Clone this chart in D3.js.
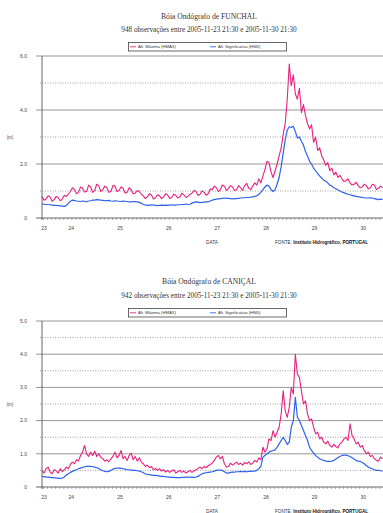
<!DOCTYPE html>
<html><head><meta charset="utf-8">
<script src="https://cdn.jsdelivr.net/npm/d3@7"></script>
<style>html,body{margin:0;padding:0;background:#fff;overflow:hidden}</style>
</head><body>
<svg id="c" width="383" height="513"></svg>
<script>
// ---- data (hourly readings from 2005-11-23 21:30) ----
const stepHours = 1;
const dayLabels = ["23","24","25","26","27","28","29","30"];
const seriesNames = ["Alt. Máxima (HMAX)", "Alt. Significativa (HM0)"];

const funchalTitle = "Bóia Ondógrafo de FUNCHAL";
const funchalSub = "948 observações entre 2005-11-23 21:30 e 2005-11-30 21:30";
const funchalYTicks = [0, 2, 4, 6];
const funchalHmax = [
 0.80,0.66,0.70,0.82,0.78,0.62,0.68,0.80,0.75,0.64,0.70,0.84,
 0.80,0.88,0.98,1.12,1.05,0.90,0.95,1.15,1.10,0.96,0.98,1.22,
 1.15,0.95,1.02,1.25,1.20,0.98,1.05,1.18,1.12,0.95,0.98,1.20,
 1.18,0.98,1.02,1.15,1.10,0.92,0.95,1.12,1.05,0.90,0.92,1.02,
 0.98,0.88,0.82,0.72,0.78,0.90,0.85,0.70,0.75,0.86,0.82,0.72,
 0.78,0.90,0.85,0.72,0.76,0.88,0.84,0.74,0.78,0.92,0.86,0.76,
 0.80,0.88,0.92,1.02,0.98,0.84,0.88,1.00,0.95,0.85,0.90,1.08,
 1.05,1.18,1.12,0.98,1.05,1.22,1.18,1.02,1.10,1.20,1.15,1.02,
 1.05,1.20,1.12,1.02,1.20,1.28,1.10,1.05,1.18,1.30,1.22,1.45,
 1.30,1.55,1.80,2.10,2.05,1.70,1.50,1.75,2.00,2.30,2.60,3.10,
 3.50,4.40,5.70,4.90,5.30,4.60,4.40,4.80,3.90,4.20,3.80,3.50,
 3.30,3.45,2.80,3.00,2.50,2.60,2.30,2.15,1.95,2.05,1.75,1.85,
 1.60,1.70,1.50,1.58,1.45,1.35,1.38,1.45,1.30,1.22,1.25,1.32,
 1.20,1.12,1.15,1.25,1.20,1.08,1.12,1.25,1.22,1.05,1.10,1.18,1.12];
const funchalHm0 = [
 0.52,0.51,0.50,0.50,0.49,0.48,0.47,0.47,0.46,0.45,0.44,0.43,
 0.46,0.55,0.62,0.66,0.65,0.63,0.62,0.61,0.63,0.62,0.60,0.63,
 0.64,0.66,0.66,0.68,0.67,0.66,0.65,0.64,0.64,0.65,0.63,0.62,
 0.64,0.63,0.62,0.61,0.63,0.62,0.61,0.60,0.60,0.61,0.61,0.60,
 0.58,0.55,0.50,0.48,0.48,0.47,0.49,0.48,0.47,0.46,0.47,0.48,
 0.47,0.48,0.47,0.48,0.49,0.48,0.48,0.49,0.49,0.50,0.50,0.52,
 0.50,0.51,0.55,0.58,0.60,0.59,0.57,0.58,0.59,0.60,0.60,0.63,
 0.66,0.68,0.70,0.71,0.72,0.73,0.74,0.73,0.73,0.72,0.71,0.72,
 0.72,0.73,0.74,0.75,0.75,0.76,0.76,0.77,0.78,0.80,0.82,0.88,
 0.95,1.05,1.15,1.22,1.18,1.05,0.98,1.05,1.25,1.50,1.90,2.40,
 2.90,3.25,3.38,3.35,3.40,3.20,2.96,3.00,2.84,2.70,2.46,2.30,
 2.10,2.00,1.85,1.75,1.65,1.55,1.48,1.40,1.36,1.30,1.22,1.18,
 1.12,1.08,1.04,1.00,0.96,0.94,0.90,0.88,0.86,0.84,0.82,0.80,
 0.79,0.77,0.76,0.75,0.74,0.74,0.75,0.74,0.72,0.70,0.68,0.70,0.69];

const canicalTitle = "Bóia Ondógrafo de CANIÇAL";
const canicalSub = "942 observações entre 2005-11-23 21:30 e 2005-11-30 21:30";
const canicalYTicks = [0, 1, 2, 3, 4, 5];
const canicalHmax = [
 0.50,0.42,0.55,0.60,0.45,0.40,0.52,0.48,0.42,0.55,0.46,0.52,
 0.60,0.55,0.68,0.75,0.70,0.82,0.78,0.95,1.05,1.25,1.00,0.92,
 1.05,0.95,1.08,0.92,1.00,0.90,0.85,0.78,0.82,0.76,0.85,0.92,
 1.05,0.88,0.95,1.10,0.85,0.92,0.80,0.95,1.02,0.82,0.92,0.78,
 0.88,0.75,0.70,0.62,0.66,0.58,0.62,0.52,0.56,0.50,0.55,0.48,
 0.52,0.45,0.50,0.44,0.48,0.52,0.42,0.46,0.50,0.44,0.48,0.42,
 0.46,0.50,0.44,0.48,0.52,0.56,0.60,0.55,0.62,0.58,0.64,0.68,
 0.72,0.80,0.90,0.95,0.85,0.92,0.70,0.60,0.62,0.72,0.66,0.70,
 0.75,0.68,0.72,0.66,0.74,0.70,0.76,0.68,
 0.72,0.80,0.75,0.88,0.82,1.20,1.05,1.15,1.45,1.40,1.70,1.50,
 1.65,1.80,2.20,2.90,2.30,2.10,2.40,3.00,2.80,4.00,3.40,3.30,
 2.90,2.50,2.60,2.20,2.00,2.05,1.80,1.60,1.65,1.45,1.50,1.35,
 1.30,1.38,1.25,1.20,1.28,1.22,1.18,1.30,1.35,1.45,1.50,1.40,
 1.90,1.55,1.45,1.30,1.35,1.20,1.25,1.10,1.00,1.05,0.92,0.95,
 0.85,0.80,0.78,0.90,0.85];
const canicalHm0 = [
 0.32,0.31,0.30,0.30,0.29,0.28,0.28,0.27,0.27,0.26,0.27,0.30,
 0.36,0.40,0.44,0.47,0.50,0.52,0.55,0.57,0.59,0.61,0.62,0.62,
 0.62,0.61,0.60,0.58,0.56,0.52,0.49,0.47,0.46,0.47,0.50,0.54,
 0.56,0.57,0.57,0.56,0.55,0.54,0.52,0.52,0.51,0.50,0.50,0.49,
 0.48,0.46,0.43,0.40,0.38,0.37,0.36,0.35,0.35,0.34,0.33,0.32,
 0.32,0.31,0.30,0.30,0.29,0.29,0.28,0.28,0.28,0.29,0.29,0.30,
 0.30,0.30,0.29,0.29,0.30,0.32,0.36,0.40,0.42,0.43,0.44,0.45,
 0.46,0.48,0.50,0.51,0.51,0.50,0.46,0.42,0.42,0.44,0.45,0.45,
 0.46,0.46,0.47,0.46,0.47,0.46,0.47,0.47,0.48,0.48,0.50,0.55,
 0.62,0.90,0.95,1.00,1.05,1.08,1.10,1.12,1.20,1.30,1.40,1.50,
 1.40,1.28,1.35,1.80,2.00,2.70,2.10,2.00,1.85,1.70,1.55,1.40,
 1.20,1.10,1.02,0.95,0.90,0.85,0.82,0.80,0.78,0.77,0.77,0.78,
 0.80,0.84,0.88,0.92,0.95,0.96,0.96,0.94,0.92,0.88,0.84,0.80,
 0.78,0.77,0.74,0.70,0.65,0.60,0.57,0.55,0.52,0.50,0.50,0.49,0.48];

const colors = ["#e8207f", "#2f62ee"];
const start = new Date(2005, 10, 23, 21, 30);
const end = new Date(2005, 10, 30, 21, 30);

const svg = d3.select("#c");
const sans = "Liberation Sans, Arial, sans-serif";
const serif = "Liberation Serif, Times New Roman, serif";

function drawChart(cfg) {
  const g = svg.append("g");
  const x = d3.scaleTime().domain([start, end]).range([42, 382.5]);
  const yMax = d3.max(cfg.yTicks);
  const y = d3.scaleLinear().domain([0, yMax]).range([cfg.y0, cfg.yTop]);

  g.append("text").attr("x", 209).attr("y", cfg.titleY).attr("text-anchor", "middle")
    .attr("font-family", serif).attr("font-size", 7.6).attr("fill", "#333").text(cfg.title);
  g.append("text").attr("x", 209).attr("y", cfg.titleY + 13.5).attr("text-anchor", "middle")
    .attr("font-family", serif).attr("font-size", 7.2).attr("fill", "#333").text(cfg.sub);

  const ly = cfg.legendY;
  g.append("rect").attr("x", 128.5).attr("y", ly).attr("width", 158).attr("height", 8.5)
    .attr("fill", "#fff").attr("stroke", "#444").attr("stroke-width", 0.8);
  const lx = [130, 210];
  seriesNames.forEach((n, i) => {
    g.append("line").attr("x1", lx[i]).attr("x2", lx[i] + 6).attr("y1", ly + 4.3).attr("y2", ly + 4.3)
      .attr("stroke", colors[i]).attr("stroke-width", 0.9);
    g.append("text").attr("x", lx[i] + 8).attr("y", ly + 5.9).attr("font-family", sans)
      .attr("font-size", 4.2).attr("fill", "#333").text(n);
  });

  const step = cfg.yTicks[1] - cfg.yTicks[0];
  cfg.yTicks.forEach(v => {
    if (v > 0) g.append("line").attr("x1", 36).attr("x2", 383).attr("y1", y(v)).attr("y2", y(v))
      .attr("stroke", "#8a8a8a").attr("stroke-width", 0.9);
    g.append("text").attr("x", 27).attr("y", y(v) + 1.8).attr("text-anchor", "end")
      .attr("font-family", sans).attr("font-size", 5).attr("fill", "#444")
      .text(v === 0 ? "0" : d3.format(".1f")(v));
    const mid = v + step / 2;
    if (mid < yMax) g.append("line").attr("x1", 40).attr("x2", 383).attr("y1", y(mid)).attr("y2", y(mid))
      .attr("stroke", "#777").attr("stroke-width", 0.7).attr("stroke-dasharray", "1,1.5");
  });

  g.append("text").attr("x", 10).attr("y", (cfg.y0 + cfg.yTop) / 2 + 1.5).attr("text-anchor", "middle")
    .attr("font-family", sans).attr("font-size", 4.5).attr("fill", "#444").text("(m)");

  const times = cfg.series[0].map((_, i) => new Date(start.getTime() + i * stepHours * 3600e3));
  cfg.series.forEach((s, i) => {
    const line = d3.line().x((d, j) => x(times[j])).y(d => y(d));
    g.append("path").datum(s).attr("d", line).attr("fill", "none")
      .attr("stroke", colors[i]).attr("stroke-width", i === 0 ? 1.1 : 1.2).attr("stroke-linejoin", "round");
  });

  g.append("line").attr("x1", 36).attr("x2", 383).attr("y1", cfg.y0).attr("y2", cfg.y0)
    .attr("stroke", "#555").attr("stroke-width", 0.9);
  g.append("line").attr("x1", 42).attr("x2", 42).attr("y1", cfg.yTop).attr("y2", cfg.y0 + 2)
    .attr("stroke", "#555").attr("stroke-width", 0.9);
  const minor = d3.timeHour.every(2).range(start, end);
  const xAxis = d3.axisBottom(x).tickValues(minor).tickSize(2).tickFormat("");
  const ax = g.append("g").attr("transform", `translate(0,${cfg.y0})`).call(xAxis);
  ax.select(".domain").remove();
  ax.selectAll(".tick line").attr("stroke", "#777").attr("stroke-width", 0.6);

  dayLabels.forEach(d => {
    const noon = new Date(2005, 10, +d, 12, 0);
    const px = Math.max(x(noon), x(start) + 2);
    g.append("text").attr("x", px).attr("y", cfg.y0 + 12).attr("text-anchor", "middle")
      .attr("font-family", sans).attr("font-size", 5).attr("fill", "#444").text(d);
  });

  g.append("text").attr("x", 212).attr("y", cfg.y0 + 25.5).attr("text-anchor", "middle")
    .attr("font-family", sans).attr("font-size", 4.8).attr("fill", "#444").text("DATA");
  const f = g.append("text").attr("x", 275).attr("y", cfg.y0 + 25.5)
    .attr("font-family", sans).attr("font-size", 4.6).attr("fill", "#333");
  f.append("tspan").text("FONTE: ");
  f.append("tspan").attr("font-weight", "bold").attr("fill", "#111").text("Instituto Hidrográfico, PORTUGAL");
}

drawChart({title: funchalTitle, sub: funchalSub, titleY: 18.5, legendY: 42.5,
  yTicks: funchalYTicks, y0: 218, yTop: 56, series: [funchalHmax, funchalHm0]});
drawChart({title: canicalTitle, sub: canicalSub, titleY: 284, legendY: 308.5,
  yTicks: canicalYTicks, y0: 487, yTop: 321, series: [canicalHmax, canicalHm0]});
</script>
</body></html>
